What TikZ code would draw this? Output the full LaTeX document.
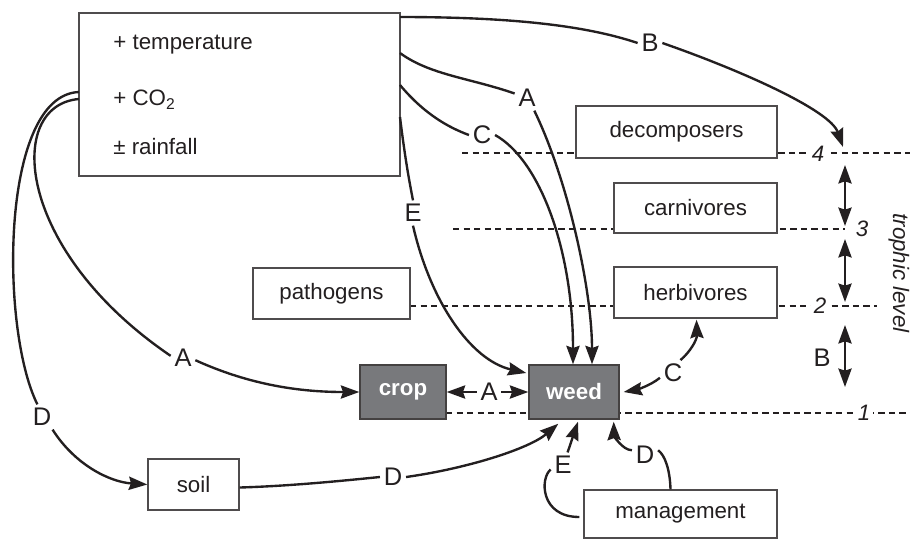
\documentclass[tikz,border=0pt]{standalone}
\usepackage{fontspec}
\setmainfont{Liberation Sans}
\usetikzlibrary{arrows.meta,calc}
\definecolor{ink}{RGB}{35,31,32}
\definecolor{boxgray}{RGB}{120,121,124}
\begin{document}
\begin{tikzpicture}[x=0.02cm,y=-0.02cm,
  every node/.style={font=\fontsize{12.7}{15}\selectfont, text=ink},
  box/.style={draw=ink!80, line width=0.8pt, inner sep=0pt, fill=white},
  darkbox/.style={draw=ink!85, line width=0.8pt, fill=boxgray, inner sep=0pt, text=white, font=\fontsize{12.7}{15}\selectfont\bfseries},
  lab/.style={font=\fontsize{14.5}{16}\selectfont, inner sep=2pt},
  num/.style={font=\fontsize{12.7}{15}\selectfont\itshape, inner sep=1.5pt, fill=white},
  conn/.style={draw=ink, line width=1.35pt},
  tip/.tip={Stealth[length=10.5pt,width=7.5pt,inset=1.2pt]},
  arr/.style={conn, -tip},
  darr/.style={conn, tip-tip},
  level/.style={draw=ink, line width=1.25pt, dash pattern=on 3.6pt off 2.4pt},
]
\useasboundingbox (0,0) rectangle (910,539);

% trophic level lines
\draw[level] (462,153) -- (910,153);
\draw[level] (453,229) -- (845,229);
\draw[level] (410,306) -- (877,306);
\draw[level] (446,413) -- (910,413);

% boxes
\node[box, minimum width=6.42cm, minimum height=3.26cm] (clim) at (239.5,94.5) {};
\node[anchor=west, inner sep=0pt] (temp) at (113,45) {+ temperature};
\node[anchor=west, inner sep=0pt] (co2) at (113,100) {+ CO\textsubscript{2}};
\node[anchor=west, inner sep=0pt] (rain) at (113,147) {± rainfall};

\node[box, minimum width=4.02cm, minimum height=1.04cm] (decomp) at (676.5,132) {decomposers};
\node[box, minimum width=3.26cm, minimum height=1.0cm] (carn) at (695.5,208) {carnivores};
\node[box, minimum width=3.26cm, minimum height=1.02cm] (herb) at (695.5,292.5) {herbivores};
\node[box, minimum width=3.14cm, minimum height=1.02cm] (patho) at (331.5,293.5) {pathogens};
\node[darkbox, minimum width=1.72cm, minimum height=1.08cm] (crop) at (403,392) {crop};
\node[darkbox, minimum width=1.8cm, minimum height=1.08cm] (weed) at (574,392) {weed};
\node[box, minimum width=1.82cm, minimum height=1.02cm] (soil) at (193.5,484.5) {soil};
\node[box, minimum width=3.86cm, minimum height=0.96cm] (mgmt) at (680.5,514) {management};

% level numbers
\node[num] (n4) at (818,154) {4};
\node[num] (n3) at (862,229) {3};
\node[num] (n2) at (820,306) {2};
\node[num] (n1) at (864,413) {1};
\node[font=\fontsize{12.7}{15}\selectfont\itshape, rotate=-90] (tl) at (899,273) {trophic level};

% labels
\node[lab] (lB) at (650,43) {B};
\node[lab] (lAt) at (527,98) {A};
\node[lab] (lCt) at (482,135) {C};
\node[lab] (lE) at (413,213) {E};
\node[lab] (lAl) at (183,358) {A};
\node[lab] (lD) at (42,417) {D};
\node[lab] (lAm) at (489,392) {A};
\node[lab] (lCr) at (673,373) {C};
\node[lab] (lDs) at (393,477) {D};
\node[lab] (lEm) at (563,465) {E};
\node[lab] (lDm) at (645,455) {D};
\node[lab] (lBt) at (822,358) {B};

% free ends
\coordinate (cB) at (400,17);
\coordinate (cA) at (400,53);
\coordinate (cC) at (400,85);
\coordinate (cE) at (400,117);
\coordinate (cDl) at (79,92);
\coordinate (cAl) at (79,99);
\coordinate (t4) at (843,147);
\coordinate (ta) at (845,165);
\coordinate (tb) at (845,226);
\coordinate (tc) at (845,239);
\coordinate (td) at (845,302);
\coordinate (te) at (845,325);
\coordinate (tf) at (845,387);

% B to level 4
\draw[conn] (cB) .. controls (520,17) and (590,27) .. (lB.west);
\draw[arr] (lB.east) .. controls (740,70) and (830,110) .. (t4);

% A top
\draw[conn] (cA) .. controls (430,75) and (470,78) .. (lAt.160);
\draw[arr] (lAt.-60) .. controls (568,180) and (592,290) .. ($(weed.north)+(18,0)$);

% C top
\draw[conn] (cC) .. controls (425,115) and (450,128) .. (lCt.west);
\draw[arr] (lCt.east) .. controls (540,160) and (573,250) .. ($(weed.north)+(-1,0)$);

% E
\draw[conn] (cE) .. controls (404,150) and (408,175) .. (lE.north);
\draw[arr] (lE.south) .. controls (430,300) and (470,360) .. ($(weed.west)+(-2,-19)$);

% left A
\draw[conn] (cAl) .. controls (5,105) and (15,250) .. (lAl.170);
\draw[arr] (lAl.-10) .. controls (250,385) and (300,392) .. (crop.west);

% left D
\draw[conn] (cDl) .. controls (0,95) and (0,330) .. (lD.110);
\draw[arr] (lD.-50) .. controls (75,465) and (110,482) .. (soil.west);

% crop <-> weed
\draw[arr] (lAm) -- (crop.east);
\draw[arr] (lAm) -- (weed.west);

% C weed <-> herbivores
\draw[arr] (lCr.-160) .. controls (650,386) and (635,390) .. ($(weed.east)+(4,0)$);
\draw[arr] (lCr.60) .. controls (690,352) and (697,340) .. ($(herb.south)+(1,1)$);

% D soil -> weed
\draw[conn] ($(soil.east)+(0,3)$) .. controls (290,486) and (340,481) .. (lDs.west);
\draw[arr] (lDs.east) .. controls (470,468) and (530,448) .. ($(weed.south west)+(30,4)$);

% E management -> weed
\draw[conn] ($(mgmt.west)+(-4,3)$) .. controls (540,517) and (540,478) .. (lEm.200);
\draw[arr] (lEm.70) -- ($(weed.south)+(4,2)$);

% D management -> weed
\draw[conn] ($(mgmt.north)+(-10,0)$) .. controls (670,470) and (665,455) .. (lDm.20);
\draw[arr] (lDm.160) .. controls (622,450) and (614,435) .. ($(weed.south east)+(-6,2)$);

% trophic arrows
\draw[darr] (ta) -- (tb);
\draw[darr] (tc) -- (td);
\draw[darr] (te) -- (tf);
\end{tikzpicture}
\end{document}
